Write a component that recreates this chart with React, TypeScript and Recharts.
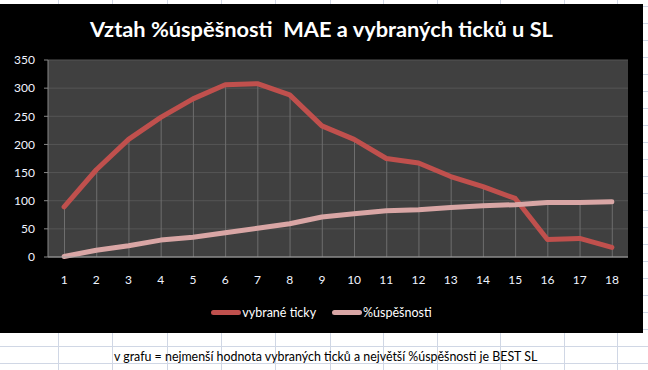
import React from "react";
import { ComposedChart, Line, Bar, XAxis, YAxis, CartesianGrid, Legend } from "recharts";

const categories = ["1", "2", "3", "4", "5", "6", "7", "8", "9", "10", "11", "12", "13", "14", "15", "16", "17", "18"];
const vybraneTicky = [89, 155, 209, 248, 281, 306, 308, 288, 233, 209, 175, 167, 143, 125, 104, 31, 33, 17];
const uspesnost = [1, 12, 20, 30, 35, 43, 51, 59, 71, 77, 82, 84, 88, 91, 93, 97, 97, 98];
const yTicks = [0, 50, 100, 150, 200, 250, 300, 350];

// sheet grid behind the chart (excel look)
const rowLines = [6, 23, 40, 57, 74, 91, 108, 125, 142, 159, 176, 193, 210, 227, 244, 261, 278, 295, 312, 329, 346, 363];
const colLines = [58, 112, 167, 221, 275, 330, 383, 437, 500, 564, 617];

const data = categories.map((name, i) => ({
  name,
  ticky: vybraneTicky[i],
  uspesnost: uspesnost[i],
  // excel drop line: from the higher of the two series down to the axis
  drop: Math.max(vybraneTicky[i], uspesnost[i]),
}));

const FONT = "Lato, 'Open Sans', sans-serif";
const RED = "#C0504D";
const PINK = "#D9A6A5";

function LegendContent() {
  const items = [
    { label: "vybrané ticky", color: RED },
    { label: "%úspěšnosti", color: PINK },
  ];
  return (
    <div style={{ display: "flex", justifyContent: "center", height: 22, alignItems: "center", gap: 16, paddingLeft: 15 }}>
      {items.map((it) => (
        <div key={it.label} style={{ display: "flex", alignItems: "center" }}>
          <span style={{ display: "inline-block", width: 30, height: 5, borderRadius: 3, background: it.color, marginRight: 1 }} />
          <span style={{ color: "#ffffff", fontSize: 12.5, fontFamily: FONT }}>{it.label}</span>
        </div>
      ))}
    </div>
  );
}

export default function App() {
  return (
    <div style={{ position: "absolute", left: 0, top: 0, width: 648, height: 370, background: "#ffffff", overflow: "hidden" }}>
      {rowLines.map((y) => (
        <div key={"r" + y} style={{ position: "absolute", left: 0, top: y, width: 648, height: 1, background: "#D0D7E5" }} />
      ))}
      {colLines.map((x) => (
        <div key={"c" + x} style={{ position: "absolute", left: x, top: 0, width: 1, height: 370, background: "#D0D7E5" }} />
      ))}

      <div style={{ position: "absolute", left: 0, top: 4, width: 643, height: 329, background: "#000000" }}>
        <div
          style={{
            position: "absolute",
            left: 0,
            top: 13,
            width: 643,
            textAlign: "center",
            color: "#ffffff",
            fontFamily: FONT,
            fontWeight: 700,
            fontSize: 21.8,
            lineHeight: "24px",
          }}
        >
          Vztah %úspěšnosti&nbsp; MAE a vybraných ticků u SL
        </div>
        <ComposedChart width={643} height={329} data={data} margin={{ top: 56, right: 15, bottom: 10, left: 0 }}>
          <CartesianGrid vertical={false} stroke="#555555" fill="#404040" />
          <XAxis
            dataKey="name"
            tickLine={false}
            axisLine={{ stroke: "#A6A6A6" }}
            tick={{ fill: "#F0F4FF", fontSize: 12, fontFamily: FONT }}
            tickMargin={12}
            height={44}
          />
          <YAxis
            domain={[0, 350]}
            ticks={yTicks}
            width={48}
            tickSize={4}
            tickMargin={9}
            tickLine={{ stroke: "#888888" }}
            axisLine={{ stroke: "#888888" }}
            tick={{ fill: "#F0F4FF", fontSize: 12, fontFamily: FONT }}
          />
          <Legend verticalAlign="bottom" content={() => <LegendContent />} />
          <Bar dataKey="drop" barSize={1} fill="#6E6E6E" isAnimationActive={false} legendType="none" />
          <Line
            type="linear"
            dataKey="ticky"
            name="vybrané ticky"
            stroke={RED}
            strokeWidth={5}
            strokeLinecap="round"
            strokeLinejoin="round"
            dot={false}
            activeDot={false}
            isAnimationActive={false}
          />
          <Line
            type="linear"
            dataKey="uspesnost"
            name="%úspěšnosti"
            stroke={PINK}
            strokeWidth={5}
            strokeLinecap="round"
            strokeLinejoin="round"
            dot={false}
            activeDot={false}
            isAnimationActive={false}
          />
        </ComposedChart>
      </div>

      <div
        style={{
          position: "absolute",
          left: 114,
          top: 349,
          color: "#000000",
          fontFamily: FONT,
          fontSize: 12.4,
          lineHeight: "16px",
          whiteSpace: "nowrap",
        }}
      >
        v grafu = nejmenší hodnota vybraných ticků a největší %úspěšnosti je BEST SL
      </div>
    </div>
  );
}
